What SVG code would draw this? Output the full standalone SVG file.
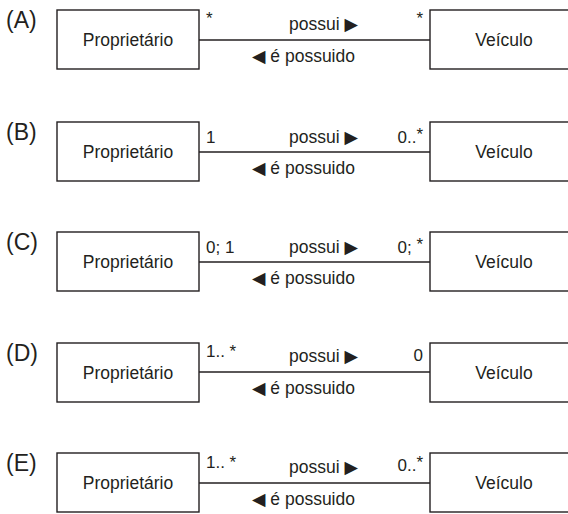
<svg xmlns="http://www.w3.org/2000/svg" width="568" height="514" viewBox="0 0 568 514">
<style>
  text { font-family: "Liberation Sans", Arial, "DejaVu Sans", sans-serif; fill: #231f20; }
  .lbl { font-size: 23px; }
  .nm { font-size: 17.5px; text-anchor: middle; }
  .t { font-size: 17.5px; }
  .m { font-size: 17px; }
  .e { text-anchor: end; }
  .box { fill: #fff; stroke: #231f20; stroke-width: 1.4; }
  .ln { stroke: #231f20; stroke-width: 1.4; fill: none; }
</style>
<rect width="568" height="514" fill="#fff"/>

<!-- Row A -->
<text class="lbl" x="6" y="28">(A)</text>
<g id="propA"><rect class="box" x="57" y="10" width="142" height="59"/><text class="nm" x="128" y="46">Proprietário</text></g>
<g id="veicA"><rect class="box" x="430" y="10" width="150" height="59"/><text class="nm" x="504" y="46">Veículo</text></g>
<!-- Row B -->
<text class="lbl" x="6" y="140">(B)</text>
<g id="propB"><rect class="box" x="57" y="122" width="142" height="59"/><text class="nm" x="128" y="158">Proprietário</text></g>
<g id="veicB"><rect class="box" x="430" y="122" width="150" height="59"/><text class="nm" x="504" y="158">Veículo</text></g>
<!-- Row C -->
<text class="lbl" x="6" y="250">(C)</text>
<g id="propC"><rect class="box" x="57" y="232" width="142" height="59"/><text class="nm" x="128" y="268">Proprietário</text></g>
<g id="veicC"><rect class="box" x="430" y="232" width="150" height="59"/><text class="nm" x="504" y="268">Veículo</text></g>
<!-- Row D -->
<text class="lbl" x="6" y="361">(D)</text>
<g id="propD"><rect class="box" x="57" y="343" width="142" height="59"/><text class="nm" x="128" y="379">Proprietário</text></g>
<g id="veicD"><rect class="box" x="430" y="343" width="150" height="59"/><text class="nm" x="504" y="379">Veículo</text></g>
<!-- Row E -->
<text class="lbl" x="6" y="471">(E)</text>
<g id="propE"><rect class="box" x="57" y="453" width="142" height="59"/><text class="nm" x="128" y="489">Proprietário</text></g>
<g id="veicE"><rect class="box" x="430" y="453" width="150" height="59"/><text class="nm" x="504" y="489">Veículo</text></g>

<g id="connectors">
  <line class="ln" x1="199" y1="40" x2="430" y2="40"/>
  <text class="m" x="206" y="24">*</text>
  <text class="m e" x="423" y="24">*</text>
  <text class="t" x="289" y="30">possui ▶</text>
  <text class="t" x="252" y="62">◀ é possuido</text>

  <line class="ln" x1="199" y1="152" x2="430" y2="152"/>
  <text class="m" x="206" y="143">1</text>
  <text class="m e" x="423" y="143">0..<tspan dy="-3">*</tspan></text>
  <text class="t" x="289" y="143">possui ▶</text>
  <text class="t" x="252" y="174">◀ é possuido</text>

  <line class="ln" x1="199" y1="262" x2="430" y2="262"/>
  <text class="m" x="206" y="253">0; 1</text>
  <text class="m e" x="423" y="253">0; <tspan dy="-3">*</tspan></text>
  <text class="t" x="289" y="253">possui ▶</text>
  <text class="t" x="252" y="284">◀ é possuido</text>

  <line class="ln" x1="199" y1="372" x2="430" y2="372"/>
  <text class="m" x="206" y="357">1.. *</text>
  <text class="m e" x="423" y="361">0</text>
  <text class="t" x="289" y="362">possui ▶</text>
  <text class="t" x="252" y="394">◀ é possuido</text>

  <line class="ln" x1="199" y1="483" x2="430" y2="483"/>
  <text class="m" x="206" y="468">1.. *</text>
  <text class="m e" x="423" y="471">0..<tspan dy="-3">*</tspan></text>
  <text class="t" x="289" y="473">possui ▶</text>
  <text class="t" x="252" y="505">◀ é possuido</text>
</g>
</svg>
